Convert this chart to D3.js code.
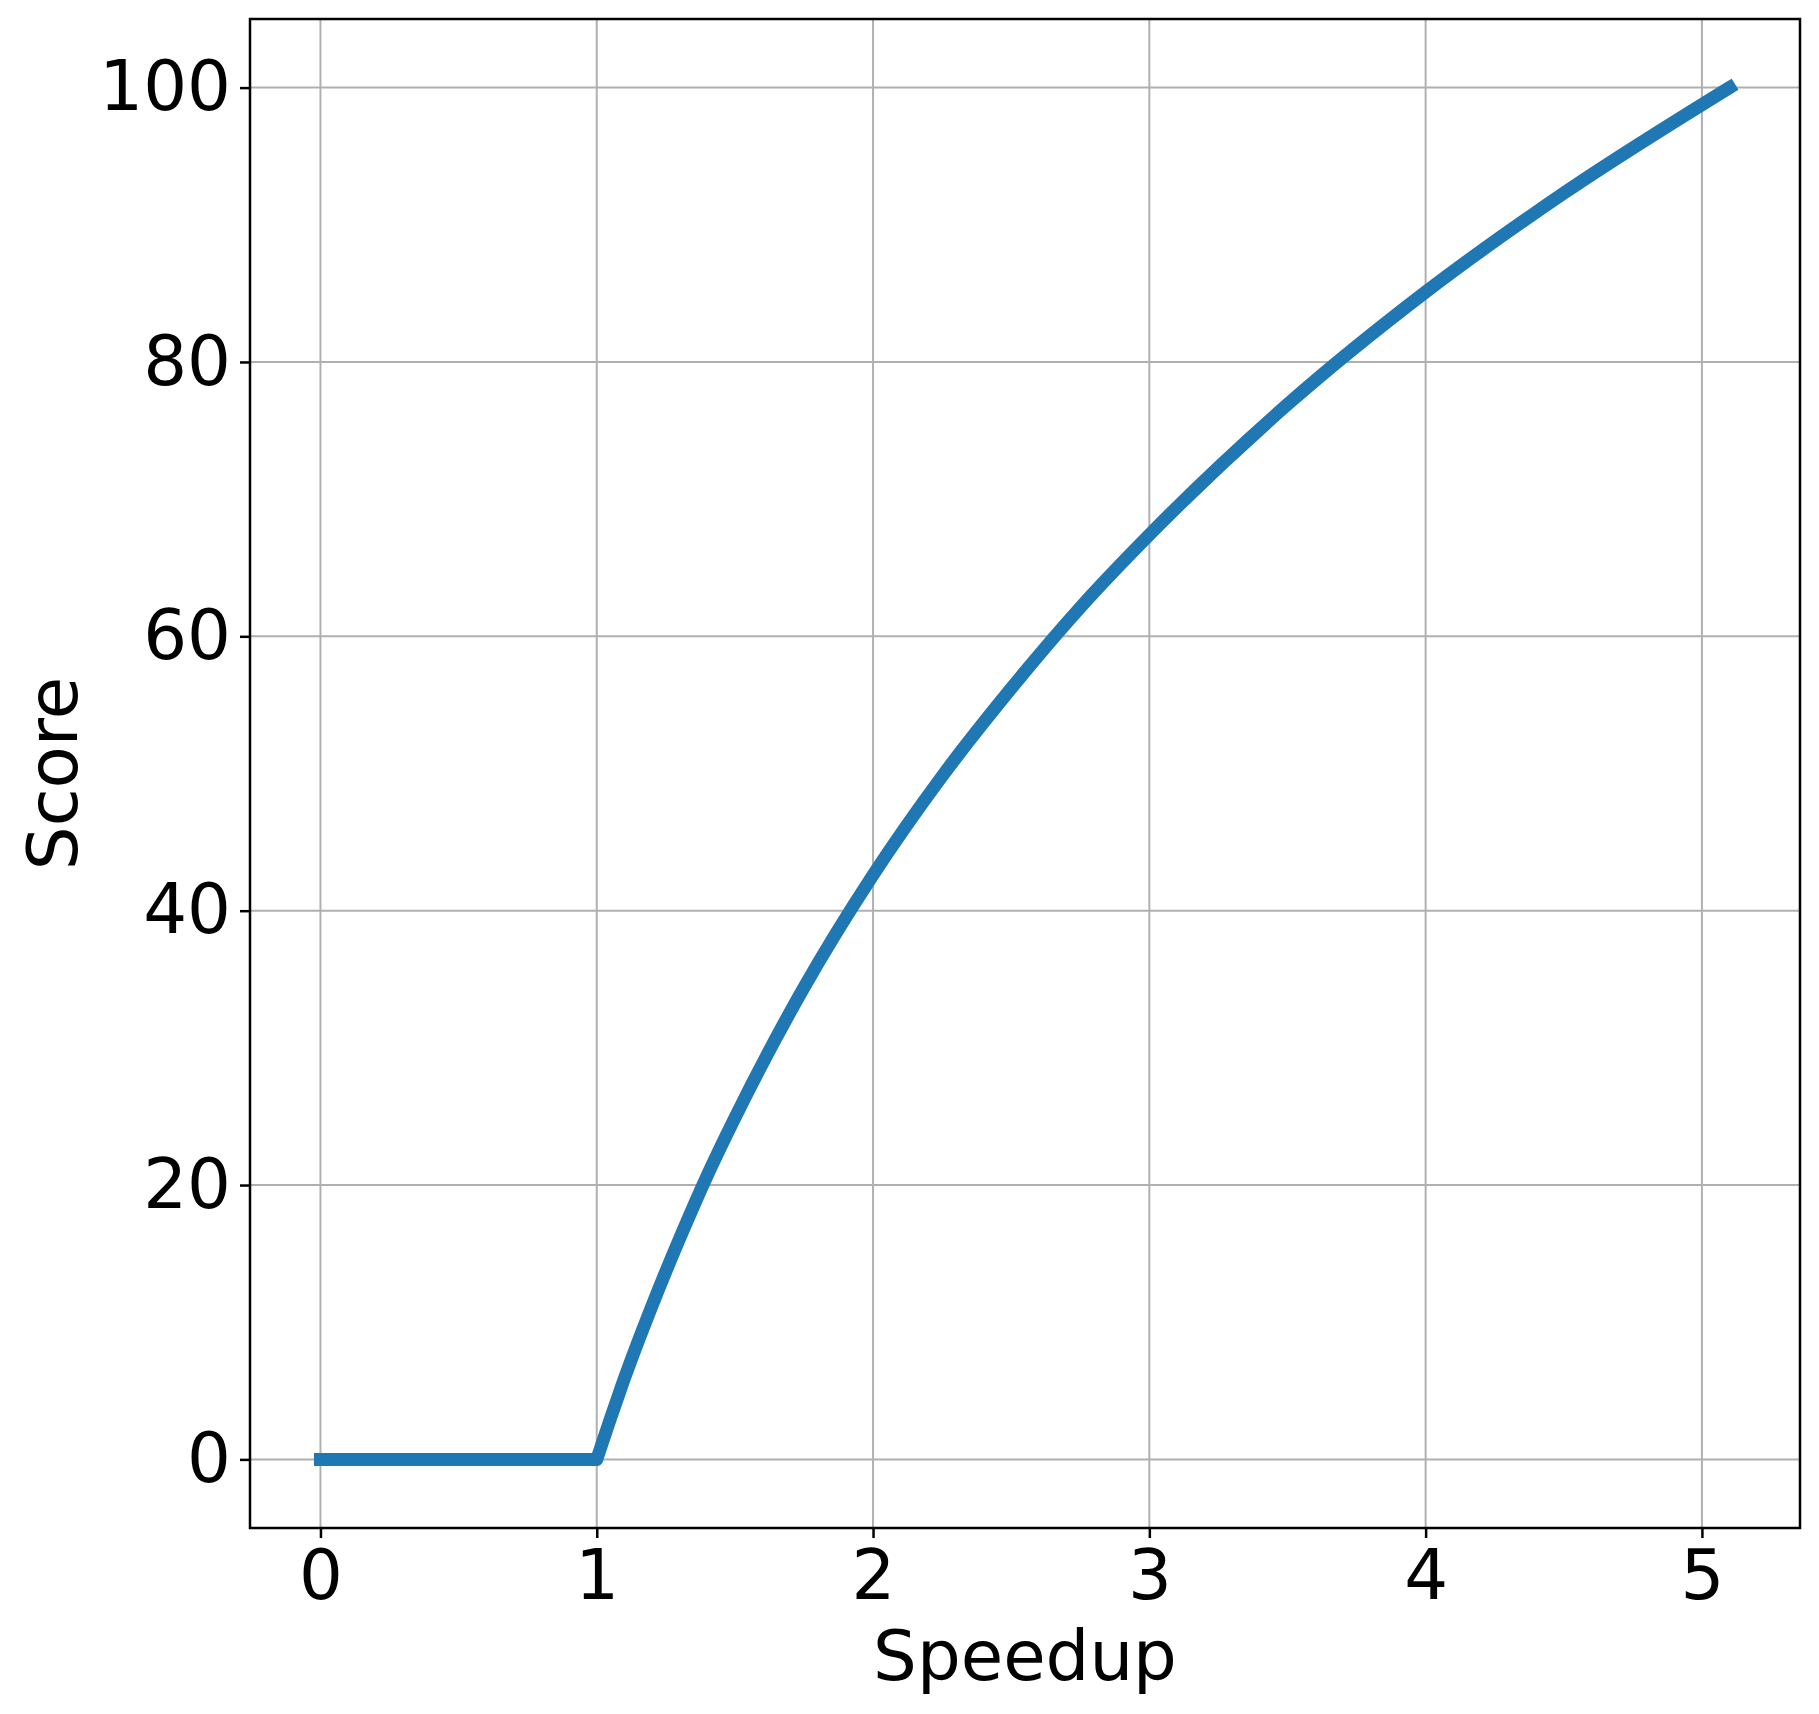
<!DOCTYPE html>
<html>
<head>
<meta charset="utf-8">
<script src="https://cdn.jsdelivr.net/npm/d3@7"></script>
<style>
    body { margin: 0; background: white; }
    text { font-family: "DejaVu Sans", sans-serif; fill: black; }
</style>
</head>
<body>
<div id="chart"></div>
<script>
// valores
const flatSpeedup = [0, 1];
const flatScore = [0, 0];
const speedup = [1, 1.05, 1.1, 1.2, 1.3, 1.4, 1.5, 1.75, 2, 2.25, 2.5, 2.75, 3, 3.5, 4, 4.5, 5.1];
const score = [0, 3.0, 5.9, 11.2, 16.1, 20.7, 24.9, 34.4, 42.6, 49.8, 56.2, 62.1, 67.4, 76.9, 85.1, 92.3, 100];
const xTicks = [0, 1, 2, 3, 4, 5];
const yTicks = [0, 20, 40, 60, 80, 100];

const width = 1819, height = 1714;
const margin = { left: 250, right: 19, top: 19, bottom: 186 };
const fontSize = 69;

const svg = d3.select("#chart")
    .append("svg")
    .attr("width", width)
    .attr("height", height);

const x = d3.scaleLinear()
    .domain([-0.255, 5.355])
    .range([margin.left, width - margin.right]);

const y = d3.scaleLinear()
    .domain([-5, 105])
    .range([height - margin.bottom, margin.top]);

// grelha
svg.append("g")
    .selectAll("line")
    .data(xTicks)
    .enter()
    .append("line")
    .attr("x1", d => x(d)).attr("x2", d => x(d))
    .attr("y1", margin.top).attr("y2", height - margin.bottom)
    .attr("stroke", "#b0b0b0")
    .attr("stroke-width", 2);

svg.append("g")
    .selectAll("line")
    .data(yTicks)
    .enter()
    .append("line")
    .attr("y1", d => y(d)).attr("y2", d => y(d))
    .attr("x1", margin.left).attr("x2", width - margin.right)
    .attr("stroke", "#b0b0b0")
    .attr("stroke-width", 2);

// linha: parte plana + curva juntas num só path
const line = d3.line().x(d => x(d[0])).y(d => y(d[1]));
const flatPath = line(flatSpeedup.map((s, i) => [s, flatScore[i]]));
const curvePath = line.curve(d3.curveMonotoneX)(speedup.map((s, i) => [s, score[i]]));

svg.append("path")
    .attr("d", flatPath + curvePath.replace(/^M/, "L"))
    .attr("fill", "none")
    .attr("stroke", "#1f77b4")
    .attr("stroke-width", 13)
    .attr("stroke-linejoin", "round")
    .attr("stroke-linecap", "square");

// eixos
const xAxis = svg.append("g")
    .attr("transform", `translate(0, ${height - margin.bottom})`)
    .call(d3.axisBottom(x).tickValues(xTicks).tickSize(10).tickPadding(12).tickFormat(d3.format("d")));

const yAxis = svg.append("g")
    .attr("transform", `translate(${margin.left}, 0)`)
    .call(d3.axisLeft(y).tickValues(yTicks).tickSize(10).tickPadding(9).tickFormat(d3.format("d")));

[xAxis, yAxis].forEach(a => {
    a.select(".domain").remove();
    a.selectAll(".tick line").attr("stroke", "black").attr("stroke-width", 2.5);
    a.selectAll(".tick text")
        .style("font-size", `${fontSize}px`)
        .style("font-family", "'DejaVu Sans', sans-serif")
        .attr("fill", "black");
});

// moldura
svg.append("rect")
    .attr("x", margin.left)
    .attr("y", margin.top)
    .attr("width", width - margin.left - margin.right)
    .attr("height", height - margin.top - margin.bottom)
    .attr("fill", "none")
    .attr("stroke", "black")
    .attr("stroke-width", 2.5);

svg.append("text")
    .attr("x", (margin.left + width - margin.right) / 2)
    .attr("y", 1680)
    .attr("text-anchor", "middle")
    .style("font-size", `${fontSize}px`)
    .text("Speedup");

svg.append("text")
    .attr("transform", `translate(77, ${(margin.top + height - margin.bottom) / 2}) rotate(-90)`)
    .attr("text-anchor", "middle")
    .style("font-size", `${fontSize}px`)
    .text("Score");
</script>
</body>
</html>
